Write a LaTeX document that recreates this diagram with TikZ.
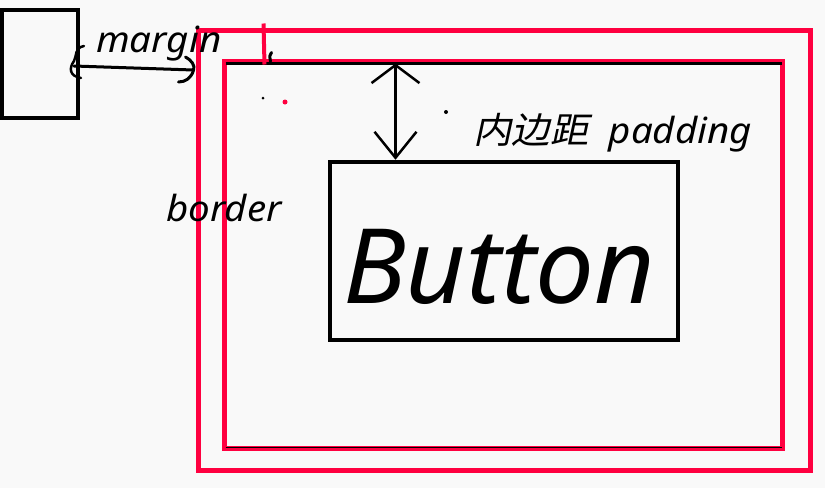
\documentclass[tikz,border=0pt]{standalone}
\usepackage{fontspec}
\setmainfont{Noto Sans}
\newfontfamily\cjk[FakeSlant=0.2]{Noto Sans CJK SC}
\usetikzlibrary{positioning,calc,arrows.meta}
\definecolor{bxred}{RGB}{255,0,64}
\definecolor{bxpaper}{RGB}{249,249,249}

\begin{document}
\begin{tikzpicture}[x=1pt,y=-1pt]
	\tikzset{
		boxframe/.style={
			shape=rectangle,
			draw=black,
			line width=4.5pt,
			inner sep=0pt
		},
		redframe/.style={
			shape=rectangle,
			draw=bxred,
			line width=5pt,
			inner sep=0pt
		},
		inklabel/.style={
			anchor=base west,
			inner sep=0pt,
			font=\itshape\fontsize{36}{36}\selectfont,
			xscale=1.07,
			text=black
		},
		inkline/.style={draw=black, line width=3pt, line cap=round, line join=round},
		padarrow/.style={inkline, {Straight Barb[length=18pt,width=48pt,line width=2.5pt]}-{Straight Barb[length=26pt,width=42pt,line width=2.5pt]}}
	}
	\fill[bxpaper] (0,0) rectangle (825,488);
	\useasboundingbox (0,0) rectangle (825,488);

	% frames
	\node[boxframe, line width=4pt, minimum width=76pt, minimum height=108pt] (leftbox) at (40,64) {};
	\node[redframe, minimum width=612pt, minimum height=440pt] (outerbox) at (504,250) {};
	\node[redframe, minimum width=558pt, minimum height=387pt] (innerbox) at (503,254.5) {};
	\draw[black, line width=3.5pt] ([shift={(4,5)}]innerbox.north west) -- ([shift={(-2.5,5)}]innerbox.north east);
	\draw[black, line width=1pt] ([shift={(4,-3)}]innerbox.south west) -- ([shift={(-2.5,-3)}]innerbox.south east);
	\node[boxframe, minimum width=348pt, minimum height=178pt] (btn) at (504,251) {};

	% texts
	\node[inklabel] (marginlbl) at (96,52) {margin};
	\node[inklabel] (borderlbl) at (166,221) {border};
	\node[inklabel] (paddinglbl) at (473,143) {{\cjk 内边距}\ \ padding};
	\node[inklabel, font=\itshape\fontsize{104}{104}\selectfont, xscale=0.94] (btnlbl) at (343,303) {Button};

	% margin arrow
	\coordinate (mstart) at ($(leftbox.east)+(-6,2)$);
	\coordinate (mend) at ($(leftbox.east -| outerbox.west)+(-2,6)$);
	\draw[inkline] (mstart) -- (mend);
	\draw[inkline] ($(mend)+(-8,-13)$) .. controls ($(mend)+(-2,-10)$) and ($(mend)+(2,-4)$) .. (mend)
		.. controls ($(mend)+(-2,8)$) and ($(mend)+(-8,12)$) .. ($(mend)+(-15,12)$);
	\draw[inkline, line width=2.5pt] ($(mstart)+(10,-20)$) .. controls ($(mstart)+(0,-18)$) and ($(mstart)+(3,-10)$) .. ($(mstart)+(0,-5)$)
		.. controls ($(mstart)+(-5,2)$) and ($(mstart)+(-5,10)$) .. ($(mstart)+(7,12)$);

	% padding arrow
	\coordinate (padtop) at ($(innerbox.north west)+(174,5)$);
	\draw[padarrow] (padtop) -- (padtop |- btn.north);

	% marks
	\draw[bxred, line width=4pt] ($(innerbox.north west)+(42,-35)$) -- ($(innerbox.north west)+(43,6)$);
	\draw[inkline] ($(innerbox.north west)+(50,-6)$) .. controls ($(innerbox.north west)+(48,-3)$) .. ($(innerbox.north west)+(49,3)$);
	\fill[black] (263,98) circle (1.5);
	\fill[bxred] (285,102) circle (2.5);
	\fill[black] (446,112) circle (2);
\end{tikzpicture}
\end{document}
